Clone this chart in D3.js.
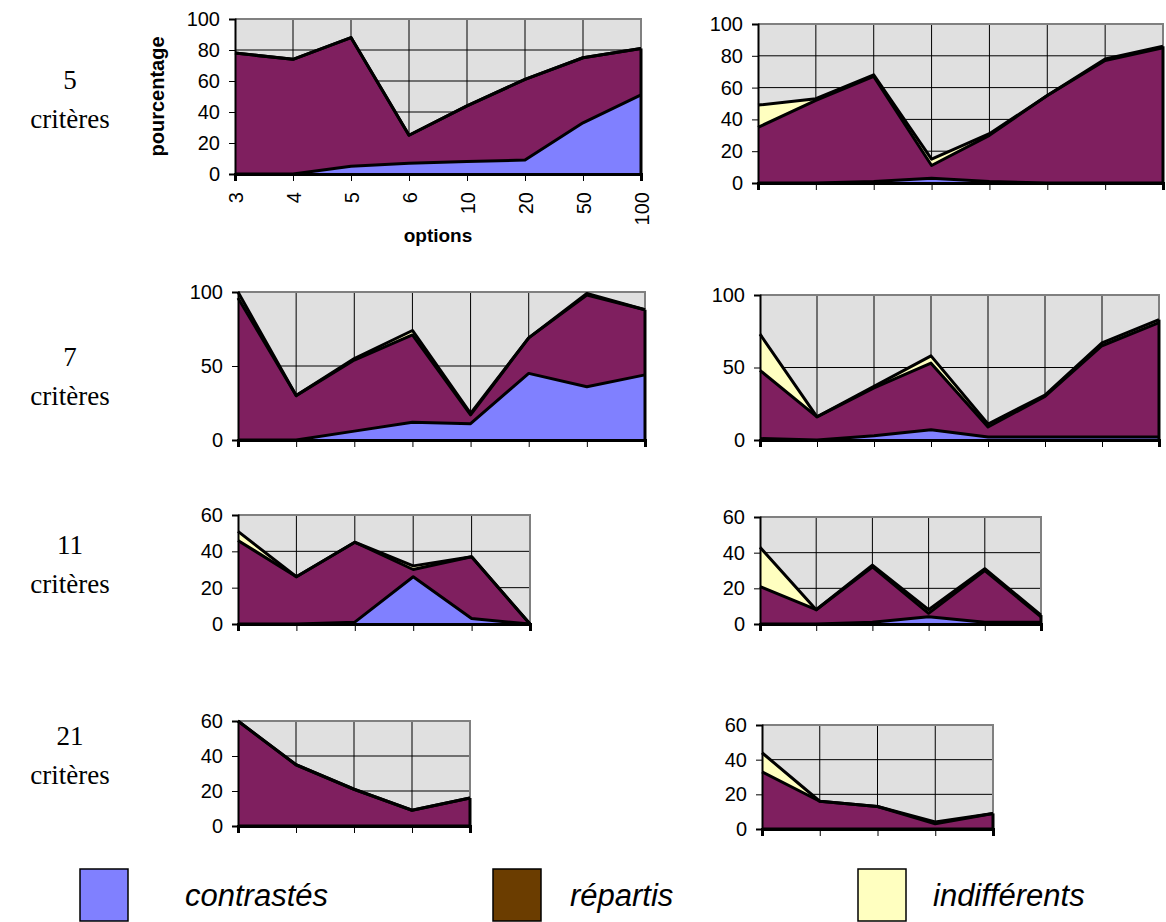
<!DOCTYPE html>
<html><head><meta charset="utf-8">
<script src="https://cdn.jsdelivr.net/npm/d3@7"></script>
<style>body{margin:0;background:#fff}svg{display:block}</style>
</head><body>
<svg id="c" width="1166" height="922"></svg>
<script>
// ---- data ----
const seriesNames = ["contrastés", "répartis", "indifférents"];
const options8 = ["3","4","5","6","10","20","50","100"];
const options6 = ["3","4","5","6","10","20"];
const options5 = ["3","4","5","6","10"];
const rowLabels = ["5", "7", "11", "21"];

const contrastes5L = [0, 0, 5, 7, 8, 9, 33, 51];
const repartis5L   = [78, 74, 83, 18, 36, 52, 42, 30];
const indiff5L     = [0, 0, 0, 0, 0, 0, 0, 0];

const contrastes5R = [0, 0, 1, 3, 1, 0, 0, 0];
const repartis5R   = [35, 52, 66, 8, 29, 55, 77, 85];
const indiff5R     = [14, 1, 1, 4, 1, 0, 1, 1];

const contrastes7L = [0, 0, 6, 12, 11, 45, 36, 44];
const repartis7L   = [96, 30, 48, 59, 6, 24, 62, 44];
const indiff7L     = [4, 0, 1, 3, 1, 0, 1, 0];

const contrastes7R = [1, 0, 3, 7, 2, 2, 2, 2];
const repartis7R   = [47, 16, 33, 46, 7, 28, 63, 79];
const indiff7R     = [25, 0, 1, 5, 2, 1, 2, 2];

const contrastes11L = [0, 0, 1, 26, 3, 0];
const repartis11L   = [46, 26, 44, 4, 34, 0];
const indiff11L     = [5, 0, 0, 2, 0, 0];

const contrastes11R = [0, 0, 1, 4, 1, 1];
const repartis11R   = [21, 8, 31, 2, 29, 3];
const indiff11R     = [22, 0, 1, 2, 1, 1];

const contrastes21L = [0, 0, 0, 0, 0];
const repartis21L   = [60, 35, 21, 9, 16];
const indiff21L     = [0, 0, 0, 0, 0];

const contrastes21R = [0, 0, 0, 0, 0];
const repartis21R   = [33, 16, 13, 3, 9];
const indiff21R     = [11, 0, 0, 1, 0];

const yTicks100 = [0, 20, 40, 60, 80, 100];
const yTicks100b = [0, 50, 100];
const yTicks60 = [0, 20, 40, 60];

// ---- layout / style ----
const areaColors = ["#8080FF", "#7F1F5F", "#FFFFC0"];
const legendColors = ["#8080FF", "#6B3D00", "#FFFFC0"];
const SANS = "Liberation Sans, Arial, sans-serif";
const svg = d3.select("#c");

const panels = [
  {cats: options8, vals: [contrastes5L, repartis5L, indiff5L], max: 100, ticks: yTicks100, x0: 235, x1: 641, yTop: 19, yBot: 174, labels: true},
  {cats: options8, vals: [contrastes5R, repartis5R, indiff5R], max: 100, ticks: yTicks100, x0: 758, x1: 1163, yTop: 24, yBot: 183},
  {cats: options8, vals: [contrastes7L, repartis7L, indiff7L], max: 100, ticks: yTicks100b, x0: 238, x1: 645, yTop: 292, yBot: 440},
  {cats: options8, vals: [contrastes7R, repartis7R, indiff7R], max: 100, ticks: yTicks100b, x0: 760, x1: 1159, yTop: 295, yBot: 440},
  {cats: options6, vals: [contrastes11L, repartis11L, indiff11L], max: 60, ticks: yTicks60, x0: 238, x1: 530, yTop: 515, yBot: 624},
  {cats: options6, vals: [contrastes11R, repartis11R, indiff11R], max: 60, ticks: yTicks60, x0: 760, x1: 1041, yTop: 517, yBot: 624},
  {cats: options5, vals: [contrastes21L, repartis21L, indiff21L], max: 60, ticks: yTicks60, x0: 238, x1: 470, yTop: 721, yBot: 826},
  {cats: options5, vals: [contrastes21R, repartis21R, indiff21R], max: 60, ticks: yTicks60, x0: 762, x1: 993, yTop: 725, yBot: 829}
];

panels.forEach(p => {
  const g = svg.append("g");
  const x = d3.scalePoint().domain(p.cats).range([p.x0, p.x1]).padding(0);
  const y = d3.scaleLinear().domain([0, p.max]).range([p.yBot, p.yTop]);
  g.append("rect").attr("x", p.x0).attr("y", p.yTop)
    .attr("width", p.x1 - p.x0).attr("height", p.yBot - p.yTop).attr("fill", "#E0E0E0");
  g.selectAll(".hg").data(p.ticks.filter(t => t > 0 && t < p.max)).join("line")
    .attr("x1", p.x0).attr("x2", p.x1).attr("y1", d => y(d)).attr("y2", d => y(d))
    .attr("stroke", "#000").attr("stroke-width", 1);
  g.selectAll(".vg").data(p.cats.slice(1, -1)).join("line")
    .attr("x1", d => x(d)).attr("x2", d => x(d)).attr("y1", p.yTop).attr("y2", p.yBot)
    .attr("stroke", "#000").attr("stroke-width", 1);
  g.append("path")
    .attr("d", `M${p.x0},${p.yTop}H${p.x1}V${p.yBot}`)
    .attr("fill", "none").attr("stroke", "#808080").attr("stroke-width", 2);
  const rows = p.cats.map((c, i) => ({cat: c, s0: p.vals[0][i], s1: p.vals[1][i], s2: p.vals[2][i]}));
  const stack = d3.stack().keys(["s0", "s1", "s2"])(rows);
  const area = d3.area().x(d => x(d.data.cat)).y0(d => y(d[0])).y1(d => y(d[1]));
  const line = d3.line().x(d => x(d.data.cat)).y(d => y(d[1]));
  stack.forEach((layer, k) => {
    g.append("path").attr("d", area(layer)).attr("fill", areaColors[k]).attr("stroke", "none");
  });
  stack.forEach(layer => {
    g.append("path").attr("d", line(layer)).attr("fill", "none")
      .attr("stroke", "#000").attr("stroke-width", 3).attr("stroke-linejoin", "round");
  });
  // right edge of stacked areas
  const last = p.cats[p.cats.length - 1];
  const topLast = d3.sum(p.vals, v => v[v.length - 1]);
  g.append("line").attr("x1", x(last)).attr("x2", x(last)).attr("y1", y(0)).attr("y2", y(topLast))
    .attr("stroke", "#000").attr("stroke-width", 3);
  const ya = d3.axisLeft(y).tickValues(p.ticks).tickSize(6).tickPadding(9).tickFormat(d3.format("d"));
  const yg = g.append("g").attr("transform", `translate(${p.x0},0)`).call(ya);
  yg.select(".domain").attr("stroke", "#000").attr("stroke-width", 2);
  yg.selectAll(".tick line").attr("stroke", "#000");
  yg.selectAll("text").attr("font-family", SANS).attr("font-size", 20).attr("fill", "#000");
  const xa = d3.axisBottom(x).tickSize(7).tickFormat(p.labels ? (d => d) : "");
  const xg = g.append("g").attr("transform", `translate(0,${p.yBot})`).call(xa);
  xg.select(".domain").attr("stroke", "#000").attr("stroke-width", 3);
  xg.selectAll(".tick line").attr("stroke", "#000");
  if (p.labels) {
    xg.selectAll("text")
      .attr("font-family", SANS).attr("font-size", 20).attr("fill", "#000")
      .attr("text-anchor", "end").attr("dy", "0.35em").attr("y", 0)
      .attr("transform", "translate(0,18) rotate(-90)");
    g.append("text").attr("x", (p.x0 + p.x1) / 2).attr("y", p.yBot + 68)
      .attr("text-anchor", "middle").attr("font-family", SANS)
      .attr("font-weight", "bold").attr("font-size", 19).text("options");
    g.append("text").attr("transform", `translate(${p.x0 - 71},${(p.yTop + p.yBot) / 2}) rotate(-90)`)
      .attr("text-anchor", "middle").attr("font-family", SANS)
      .attr("font-weight", "bold").attr("font-size", 20).text("pourcentage");
  }
});

const rowY = [80, 357, 545, 736];
rowLabels.forEach((r, i) => {
  const t = svg.append("text").attr("font-family", "Liberation Serif, Times New Roman, serif")
    .attr("font-size", 27).attr("text-anchor", "middle").attr("fill", "#000");
  t.append("tspan").attr("x", 70).attr("y", rowY[i] + 9).text(r);
  t.append("tspan").attr("x", 70).attr("y", rowY[i] + 48).text("critères");
});

const legX = [80, 493, 858];
const legTX = [185, 570, 933];
seriesNames.forEach((s, i) => {
  svg.append("rect").attr("x", legX[i]).attr("y", 869).attr("width", 48).attr("height", 52)
    .attr("fill", legendColors[i]).attr("stroke", "#000").attr("stroke-width", 1.5);
  svg.append("text").attr("x", legTX[i]).attr("y", 906)
    .attr("font-family", SANS).attr("font-style", "italic")
    .attr("font-size", 31).attr("fill", "#000").text(s);
});
</script>
</body></html>
